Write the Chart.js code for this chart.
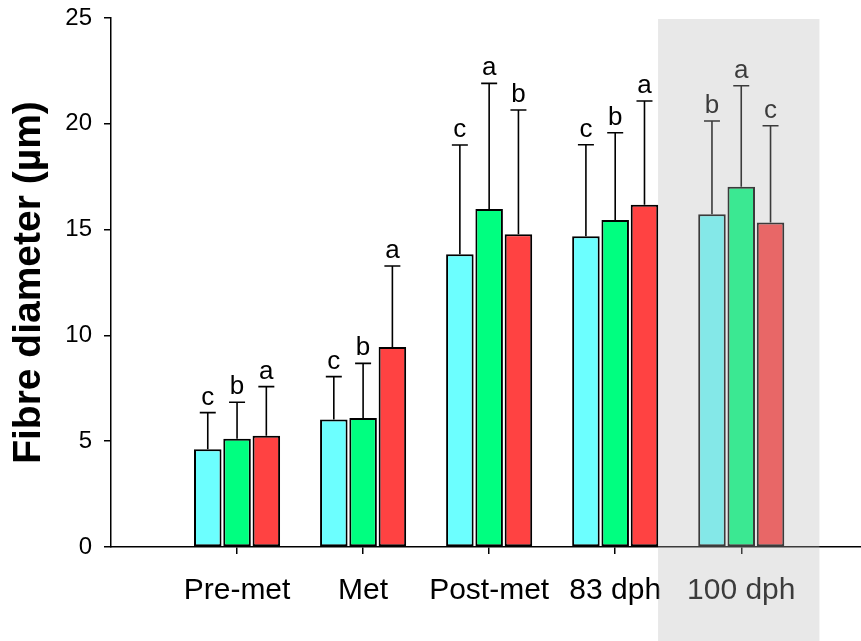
<!DOCTYPE html>
<html>
<head>
<meta charset="utf-8">
<script src="https://cdn.jsdelivr.net/npm/chart.js@4.4.1/dist/chart.umd.min.js"></script>
<style>
  html, body { margin: 0; padding: 0; background: #fff; }
  #wrap { width: 861px; height: 641px; }
</style>
</head>
<body>
<div id="wrap"><canvas id="fibreChart"></canvas></div>
<script>
const stages = ['Pre-met', 'Met', 'Post-met', '83 dph', '100 dph'];

// mean fibre diameter per stage (µm)
const meanA = [4.62, 6.03, 13.83, 14.68, 15.72];
const meanB = [5.12, 6.10, 15.97, 15.45, 17.03];
const meanC = [5.26, 9.45, 14.78, 16.18, 15.33];

// standard deviations (upper whisker only)
const sdA = [1.73, 2.02, 5.17, 4.33, 4.41];
const sdB = [1.72, 2.58, 5.94, 4.13, 4.77];
const sdC = [2.32, 3.83, 5.87, 4.90, 4.58];

// significance letters
const letA = ['c', 'c', 'c', 'c', 'b'];
const letB = ['b', 'b', 'a', 'b', 'a'];
const letC = ['a', 'a', 'b', 'a', 'c'];

const yTicks = [0, 5, 10, 15, 20, 25];

const font = "'Liberation Sans', Arial, sans-serif";

function toPoints(vals) {
  return vals.map((v, i) => ({ x: i + 1, y: v }));
}

function makeSet(label, color, vals, sd, letters) {
  return {
    label: label,
    data: toPoints(vals),
    backgroundColor: color,
    borderColor: '#000',
    borderWidth: 2,
    borderSkipped: false,
    categoryPercentage: 0.697,
    barPercentage: 0.94,
    sd: sd,
    letters: letters
  };
}

// whiskers + letters on top of each bar
const errorBars = {
  id: 'errorBars',
  afterDatasetsDraw(chart) {
    const ctx = chart.ctx;
    const y = chart.scales.y;
    ctx.save();
    ctx.strokeStyle = '#000';
    ctx.lineWidth = 1.6;
    ctx.fillStyle = '#000';
    ctx.font = '26px ' + font;
    ctx.textAlign = 'center';
    ctx.textBaseline = 'alphabetic';
    chart.data.datasets.forEach((ds, di) => {
      const meta = chart.getDatasetMeta(di);
      meta.data.forEach((bar, i) => {
        const top = y.getPixelForValue(ds.data[i].y + ds.sd[i]);
        ctx.beginPath();
        ctx.moveTo(bar.x, bar.y);
        ctx.lineTo(bar.x, top);
        ctx.moveTo(bar.x - 8, top);
        ctx.lineTo(bar.x + 8, top);
        ctx.stroke();
        ctx.fillText(ds.letters[i], bar.x, top - 8);
      });
    });
    ctx.restore();
  }
};

// grey panel over the last stage
const shadeLast = {
  id: 'shadeLast',
  afterDraw(chart) {
    const ctx = chart.ctx;
    const x = chart.scales.x;
    const left = x.getPixelForValue(stages.length - 0.66);
    const right = x.getPixelForValue(stages.length + 0.62);
    ctx.save();
    ctx.fillStyle = 'rgba(183,183,183,0.32)';
    ctx.fillRect(left, chart.chartArea.top + 1, right - left, chart.height - chart.chartArea.top);
    ctx.restore();
  }
};

new Chart(document.getElementById('fibreChart'), {
  type: 'bar',
  data: {
    datasets: [
      makeSet('Group A', '#6cffff', meanA, sdA, letA),
      makeSet('Group B', '#00ff80', meanB, sdB, letB),
      makeSet('Group C', '#ff4242', meanC, sdC, letC)
    ]
  },
  options: {
    responsive: true,
    maintainAspectRatio: false,
    animation: false,
    layout: { padding: { top: 18, right: 0, bottom: 0, left: 0 } },
    plugins: {
      legend: { display: false },
      tooltip: { enabled: false }
    },
    scales: {
      x: {
        type: 'linear',
        min: 0,
        max: 5.95,
        offset: false,
        afterBuildTicks(axis) {
          axis.ticks = stages.map((_, i) => ({ value: i + 1 }));
        },
        afterFit(axis) {
          axis.height = 94;
          axis.paddingLeft = 0;
          axis.paddingRight = 0;
        },
        grid: { offset: false, drawOnChartArea: false, color: '#000', lineWidth: 1.5, tickLength: 7 },
        border: { color: '#000', width: 1.5 },
        ticks: {
          autoSkip: false,
          maxRotation: 0,
          padding: 19,
          color: '#000',
          font: { family: font, size: 30 },
          callback: (v) => stages[v - 1] || ''
        }
      },
      y: {
        min: 0,
        max: 25,
        afterBuildTicks(axis) {
          axis.ticks = yTicks.map(v => ({ value: v }));
        },
        afterFit(axis) {
          axis.width = 111;
          axis.paddingTop = 0;
          axis.paddingBottom = 0;
        },
        grid: { drawOnChartArea: false, color: '#000', lineWidth: 1.5, tickLength: 7 },
        border: { color: '#000', width: 1.5 },
        ticks: {
          padding: 12,
          color: '#000',
          font: { family: font, size: 24 }
        },
        title: {
          display: true,
          text: 'Fibre diameter (µm)',
          color: '#000',
          padding: { top: 6, bottom: 0 },
          font: { family: font, size: 39, weight: 'bold' }
        }
      }
    }
  },
  plugins: [errorBars, shadeLast]
});
</script>
</body>
</html>
